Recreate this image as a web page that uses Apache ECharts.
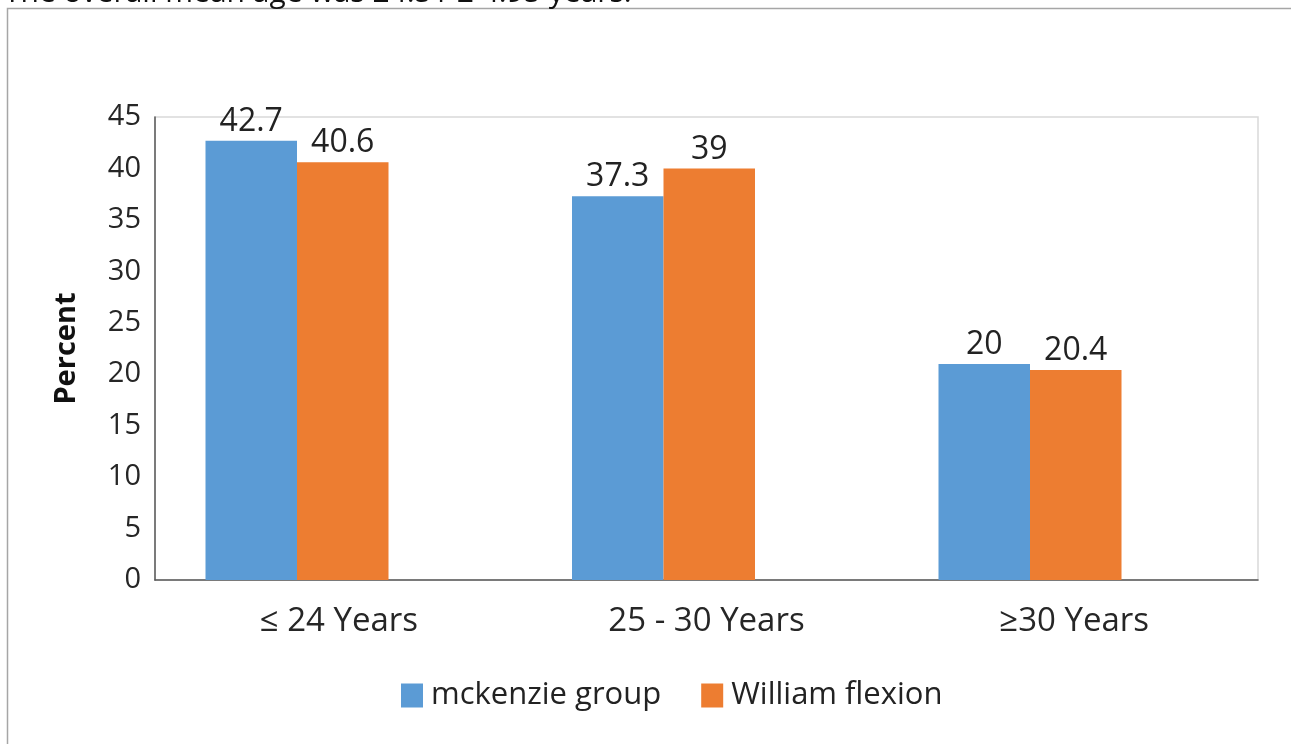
<!DOCTYPE html>
<html>
<head>
<meta charset="utf-8">
<script src="https://cdn.jsdelivr.net/npm/echarts@6/dist/echarts.min.js"></script>
<style>
html,body{margin:0;padding:0;background:#fff;}
#c{width:1291px;height:744px;}
</style>
</head>
<body>
<div id="c"></div>
<script>
const categories = ['≤ 24 Years', '25 - 30 Years', '≥30 Years'];
const seriesNames = ['mckenzie group', 'William flexion'];
const mckenzieValues = [42.7, 37.3, 21.0];
const williamValues = [40.6, 40.0, 20.4];
const mckenzieLabels = ['42.7', '37.3', '20'];
const williamLabels = ['40.6', '39', '20.4'];
const yTicks = [0, 5, 10, 15, 20, 25, 30, 35, 40, 45];
const captionText = 'The overall mean age was 24.51 ± 4.95 years.';

const FONT = '"Open Sans", "Noto Sans", sans-serif';
const chart = echarts.init(document.getElementById('c'));

const option = {
  animation: false,
  textStyle: { fontFamily: FONT },
  graphic: [
    { type: 'rect', shape: { x: 7.5, y: 8.5, width: 1300, height: 800 },
      style: { fill: 'none', stroke: '#a6a6a6', lineWidth: 1.5 }, z: 0 },
    { type: 'text', left: 4, top: -22,
      style: { text: captionText, font: '30px ' + FONT, fill: '#111' } }
  ],
  legend: {
    bottom: 28, left: 396,
    itemWidth: 22, itemHeight: 24, itemGap: 40,
    icon: 'rect',
    textStyle: { fontSize: 31, color: '#222', fontFamily: FONT, padding: [0, 0, 0, 3] },
    data: seriesNames
  },
  grid: [
    { left: 155, right: 33, top: 117, bottom: 164, show: true, borderColor: '#d9d9d9', borderWidth: 1.5, backgroundColor: 'transparent' },
    { left: 113.75, width: 1099.5, top: 117, bottom: 164 }
  ],
  xAxis: [
    { type: 'category', gridIndex: 0, data: categories,
      axisLine: { lineStyle: { color: '#595959', width: 1.5 } },
      axisTick: { show: false },
      axisLabel: { fontSize: 33, color: '#262626', margin: 25, fontFamily: FONT } },
    { type: 'category', gridIndex: 1, data: categories, show: false }
  ],
  yAxis: [
    { type: 'value', gridIndex: 0, min: 0, max: 45, interval: 5,
      name: 'Percent', nameLocation: 'middle', nameGap: 74, nameRotate: 90,
      nameTextStyle: { fontSize: 29, fontWeight: 'bold', color: '#111', fontFamily: FONT },
      axisLine: { show: true, lineStyle: { color: '#595959', width: 1.5 } },
      axisTick: { show: false },
      splitLine: { show: false },
      axisLabel: { fontSize: 29, color: '#262626', margin: 14, fontFamily: FONT,
        formatter: v => yTicks.includes(v) ? String(v) : '' } },
    { type: 'value', gridIndex: 1, min: 0, max: 45, interval: 5, show: false, splitLine: { show: false } }
  ],
  series: [
    { name: seriesNames[0], type: 'bar', xAxisIndex: 1, yAxisIndex: 1,
      data: mckenzieValues, barWidth: 91.5, barGap: '0%',
      itemStyle: { color: '#5B9BD5' },
      label: { show: true, position: 'top', distance: 3, fontSize: 32, color: '#222', fontFamily: FONT,
        formatter: p => mckenzieLabels[p.dataIndex] } },
    { name: seriesNames[1], type: 'bar', xAxisIndex: 1, yAxisIndex: 1,
      data: williamValues, barWidth: 91.5, barGap: '0%',
      itemStyle: { color: '#ED7D31' },
      label: { show: true, position: 'top', distance: 3, fontSize: 32, color: '#222', fontFamily: FONT,
        formatter: p => williamLabels[p.dataIndex] } }
  ]
};
chart.setOption(option);
</script>
</body>
</html>
